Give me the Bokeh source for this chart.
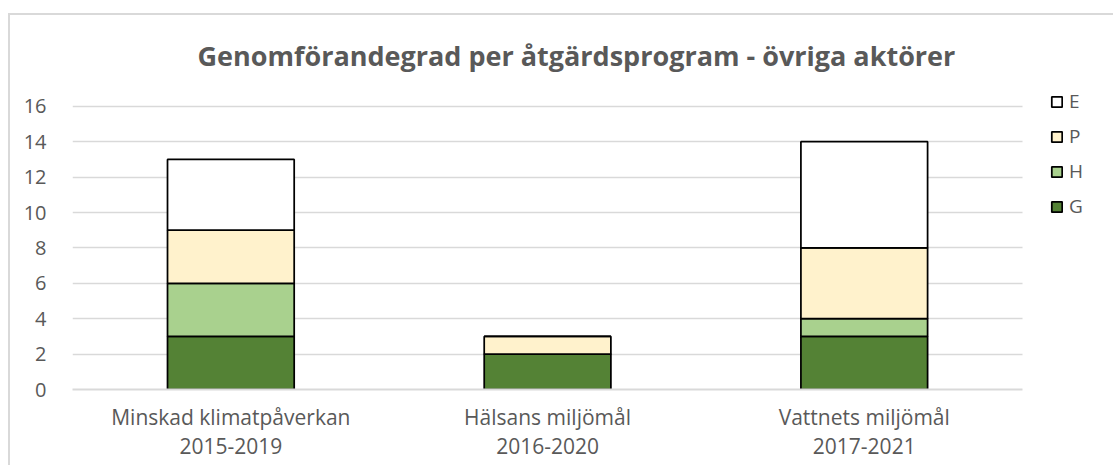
from bokeh.plotting import figure
from bokeh.models import Range1d, FixedTicker, Legend, LegendItem, Title
from bokeh.embed import file_html
from bokeh.resources import INLINE

categories = ["Minskad klimatpåverkan\n2015-2019", "Hälsans miljömål\n2016-2020", "Vattnets miljömål\n2017-2021"]
series = ["G", "H", "P", "E"]
G = [3, 2, 3]
H = [3, 0, 1]
P = [3, 1, 4]
E = [4, 0, 6]
colors = ["#548235", "#A9D18E", "#FFF2CC", "#FFFFFF"]
y_ticks = [0, 2, 4, 6, 8, 10, 12, 14, 16]

xs = [i + 0.5 for i in range(len(categories))]
data = dict(x=xs, G=G, H=H, P=P, E=E)

TXT = "#595959"
FONT = "Open Sans"

# layout (pixels)
W, H_ = 1105, 452
BORDER_L, BORDER_R, BORDER_T, BORDER_B = 62, 0, 63, 78
CAT_PX = 316.7          # width of one category band
UNIT_PX = 17.7          # pixels per y unit
frame_w = W - BORDER_L - BORDER_R
frame_h = H_ - BORDER_T - BORDER_B
x_end = frame_w / CAT_PX
y_end = frame_h / UNIT_PX

p = figure(width=W, height=H_, output_backend="svg", toolbar_location=None,
           x_range=Range1d(0, x_end), y_range=Range1d(0, y_end),
           min_border_left=BORDER_L, min_border_right=BORDER_R,
           min_border_top=BORDER_T, min_border_bottom=BORDER_B)
p.margin = (15, 0, 0, 10)
p.styles = {"box-shadow": "-2px -2px 0 0 #d9d9d9"}

renderers = p.vbar_stack(series, x="x", width=0.4, source=data, color=colors,
                         line_color="black", line_width=1.75)

t = Title(text="Genomförandegrad per åtgärdsprogram - övriga aktörer", align="left",
          text_font=FONT, text_font_size="27px", text_font_style="bold", text_color=TXT,
          offset=125)
p.add_layout(t, "above")

p.outline_line_color = None
p.xgrid.grid_line_color = None
p.ygrid.grid_line_color = "#d9d9d9"
p.ygrid.grid_line_width = 1.5
p.ygrid.ticker = FixedTicker(ticks=y_ticks)
p.ygrid.cross_bounds = (0, len(categories))

p.yaxis.ticker = FixedTicker(ticks=y_ticks)
p.yaxis.axis_line_color = None
p.yaxis.major_tick_line_color = None
p.yaxis.minor_tick_line_color = None
p.yaxis.major_label_text_color = TXT
p.yaxis.major_label_text_font = FONT
p.yaxis.major_label_text_font_size = "20px"
p.yaxis.major_label_standoff = 20

p.xaxis.ticker = FixedTicker(ticks=xs)
p.xaxis.bounds = (0, len(categories))
p.xaxis.major_label_overrides = {x: c for x, c in zip(xs, categories)}
p.xaxis.axis_line_color = "#d9d9d9"
p.xaxis.axis_line_width = 2
p.xaxis.major_tick_line_color = None
p.xaxis.minor_tick_line_color = None
p.xaxis.major_label_text_color = TXT
p.xaxis.major_label_text_font = FONT
p.xaxis.major_label_text_font_size = "21px"
p.xaxis.major_label_text_line_height = 1.05
p.xaxis.major_label_standoff = 7

items = [LegendItem(label=s, renderers=[r]) for s, r in zip(series, renderers)][::-1]
legend = Legend(items=items, location=(978, 170), orientation="vertical",
                glyph_width=13, glyph_height=13, label_standoff=6, spacing=9,
                label_height=20,
                label_text_font=FONT, label_text_font_size="19px", label_text_color=TXT,
                padding=0, margin=0, border_line_color=None, background_fill_alpha=0)
p.add_layout(legend, "center")

open("out.html", "w").write(file_html(p, INLINE))
